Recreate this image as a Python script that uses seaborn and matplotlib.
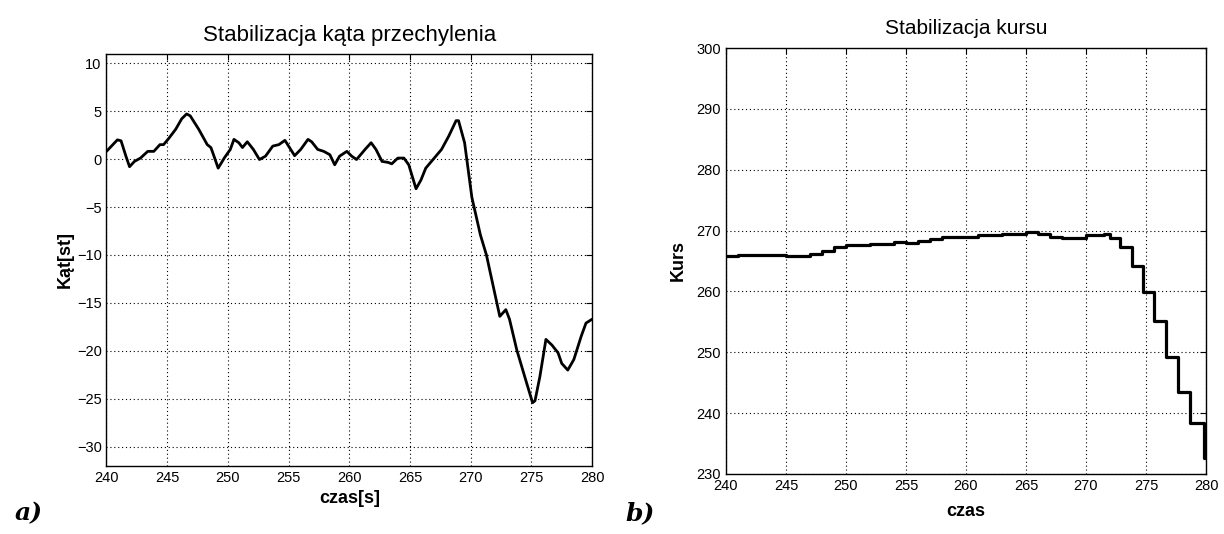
import matplotlib
matplotlib.use("Agg")
import matplotlib.pyplot as plt
import seaborn as sns
import pandas as pd

# --- panel a) roll angle stabilisation ---
czas_a = [240.0, 240.9, 241.2, 241.6, 241.9, 242.3, 242.8, 243.4, 243.9, 244.4,
          244.7, 245.1, 245.7, 246.2, 246.6, 246.9, 247.6, 248.3, 248.6, 248.8,
          249.2, 249.7, 250.2, 250.5, 250.9, 251.2, 251.6, 252.1, 252.6, 253.1,
          253.7, 254.2, 254.7, 255.0, 255.5, 256.0, 256.6, 256.9, 257.4, 257.9,
          258.4, 258.8, 259.2, 259.8, 260.2, 260.6, 261.3, 261.8, 262.2, 262.7,
          263.2, 263.5, 264.0, 264.5, 264.9, 265.5, 265.9, 266.3, 266.9, 267.6,
          268.2, 268.8, 269.0, 269.5, 270.1, 270.8, 271.3, 271.9, 272.4, 272.9,
          273.2, 273.8, 274.6, 275.1, 275.3, 275.7, 276.2, 276.7, 277.2, 277.5,
          278.0, 278.5, 279.1, 279.5, 280.0]
kat = [0.8, 2.0, 1.9, 0.3, -0.8, -0.25, 0.1, 0.8, 0.8, 1.5,
       1.5, 2.1, 3.1, 4.2, 4.7, 4.5, 3.1, 1.5, 1.2, 0.5,
       -0.95, 0.1, 1.0, 2.05, 1.7, 1.2, 1.8, 1.0, -0.05, 0.3,
       1.35, 1.5, 1.95, 1.35, 0.35, 1.0, 2.05, 1.8, 1.0, 0.8,
       0.45, -0.6, 0.3, 0.8, 0.3, -0.05, 1.0, 1.7, 1.0, -0.25,
       -0.35, -0.5, 0.1, 0.1, -0.6, -3.1, -2.2, -0.95, -0.05, 1.0,
       2.4, 4.0, 4.0, 1.7, -4.0, -7.9, -10.0, -13.5, -16.4, -15.7,
       -16.7, -19.9, -23.3, -25.4, -25.2, -22.7, -18.8, -19.4, -20.2, -21.3,
       -22.0, -20.9, -18.5, -17.1, -16.7]

# --- panel b) heading stabilisation (stepped signal) ---
czas_b = [240.0, 241.0, 245.0, 247.0, 248.0, 249.0, 250.0, 252.0, 254.0, 255.0,
          256.0, 257.0, 258.0, 259.0, 261.0, 263.0, 265.0, 266.0, 267.0, 268.0,
          270.0, 271.5, 272.0, 272.8, 273.8, 274.75, 275.7, 276.7, 277.7, 278.65,
          279.8, 280.0]
kurs = [265.8, 266.0, 265.8, 266.2, 266.7, 267.3, 267.6, 267.8, 268.1, 268.0,
        268.3, 268.6, 268.9, 269.0, 269.2, 269.4, 269.8, 269.4, 269.0, 268.7,
        269.2, 269.4, 268.8, 267.3, 264.1, 259.9, 255.2, 249.2, 243.5, 238.3,
        232.6, 232.6]

df_a = pd.DataFrame({"czas": czas_a, "kat": kat})
df_b = pd.DataFrame({"czas": czas_b, "kurs": kurs})

sns.set_style("white")
plt.rcParams["font.family"] = ["Liberation Sans", "DejaVu Sans"]
plt.rcParams["text.color"] = "black"
plt.rcParams["axes.labelcolor"] = "black"

fig = plt.figure(figsize=(12.24, 5.34), dpi=100)
ax_a = fig.add_axes([0.087, 0.1273, 0.3967, 0.7725])
ax_b = fig.add_axes([0.5931, 0.1124, 0.3922, 0.7977])

sns.lineplot(data=df_a, x="czas", y="kat", ax=ax_a, color="black",
             linewidth=2.0, sort=False, estimator=None,
             solid_joinstyle="round")
sns.lineplot(data=df_b, x="czas", y="kurs", ax=ax_b, color="black",
             linewidth=2.3, sort=False, estimator=None, drawstyle="steps-post")

ax_a.set_xlim(240, 280)
ax_a.set_ylim(-32, 11)
ax_a.set_yticks(range(-30, 11, 5))
ax_a.set_title("Stabilizacja kąta przechylenia", fontsize=16, pad=9,
               color="black")
ax_a.set_xlabel("czas[s]", fontsize=13, fontweight="bold", labelpad=4)
ax_a.set_ylabel("Kąt[st]", fontsize=13, fontweight="bold", labelpad=2)

ax_b.set_xlim(240, 280)
ax_b.set_ylim(230, 300)
ax_b.set_yticks(range(230, 301, 10))
ax_b.set_title("Stabilizacja kursu", fontsize=15, pad=10, color="black")
ax_b.set_xlabel("czas", fontsize=13, fontweight="bold", labelpad=7)
ax_b.set_ylabel("Kurs", fontsize=13, fontweight="bold", labelpad=7)

for ax in (ax_a, ax_b):
    ax.set_xticks(range(240, 281, 5))
    ax.grid(True, color="black", linestyle=(0, (1, 2.5)), linewidth=0.8)
    ax.tick_params(direction="in", top=True, right=True, length=4,
                   labelsize=10.5, width=0.8, colors="black")
    for s in ax.spines.values():
        s.set_color("black")
        s.set_linewidth(1.0)

fig.text(0.012, 0.025, "a)", family="DejaVu Serif", fontsize=18,
         fontweight="bold", style="italic")
fig.text(0.511, 0.025, "b)", family="DejaVu Serif", fontsize=18,
         fontweight="bold", style="italic")

fig.savefig("out.png", dpi=100, facecolor="white")
